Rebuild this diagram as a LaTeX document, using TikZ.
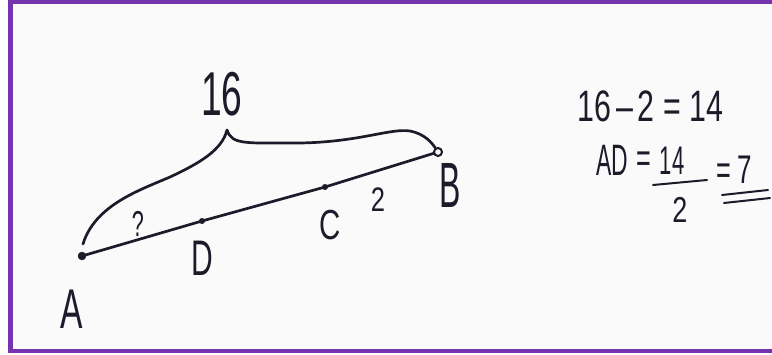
\documentclass[tikz,border=0pt]{standalone}
\usepackage{fontspec}
\setmainfont{Liberation Sans}
\begin{document}
\begin{tikzpicture}[x=1pt,y=-1pt,
  ink/.style={draw=inkc, line width=2.7pt, line cap=round, line join=round},
  pt/.style={circle, fill=inkc, draw=inkc, inner sep=0pt, minimum size=5pt},
  hw/.style={text=inkc, inner sep=0pt, font=\fontsize{56}{56}\selectfont},
  hws/.style={text=inkc, inner sep=0pt, font=\fontsize{42}{42}\selectfont}]
\definecolor{inkc}{HTML}{1B1B2A}
\definecolor{frame}{HTML}{7334AE}
\definecolor{paper}{HTML}{FAFAFA}
\useasboundingbox (0,0) rectangle (772,354);
\fill[white] (0,0) rectangle (772,354);
\fill[paper] (13,3.5) rectangle (772,349);
% frame
\fill[frame] (8,0) rectangle (772,3.5);
\fill[frame] (8,0) rectangle (13,353);
\fill[frame] (8,349) rectangle (772,353);
% points
\node[pt, minimum size=8pt] (A) at (82,256) {};
\node[pt, minimum size=5.5pt] (D) at (202,221) {};
\node[pt, minimum size=5.5pt] (C) at (325,187) {};
\node[pt, minimum size=8pt, fill=paper, line width=2pt] (B) at (438,152) {};
\draw[ink] (A.center) -- (D.center) -- (C.center) -- (B);
% brace
\coordinate (bt) at (83,244);
\coordinate (peak) at (227,130);
\draw[ink] (bt) .. controls (95,205) and (140,190) .. (170,177)
  .. controls (200,163) and (222,150) .. (peak)
  .. controls (232,145) and (245,143) .. (300,143)
  .. controls (360,142) and (390,128) .. (410,131)
  .. controls (425,134) and (432,143) .. (B);
% labels
\node[hw] (lA) at (72,309) {\scalebox{0.6}[1]{A}};
\node[hw, font=\fontsize{50}{50}\selectfont] (lD) at (202,258) {\scalebox{0.6}[1]{D}};
\node[hws] (lC) at (330,225) {\scalebox{0.7}[1]{C}};
\node[hw, font=\fontsize{64}{64}\selectfont] (lB) at (450,185) {\scalebox{0.5}[1]{B}};
\node[hw, font=\fontsize{62}{62}\selectfont] (l16) at (222,94) {\scalebox{0.6}[1]{16}};
\node[hws, font=\fontsize{36}{36}\selectfont] (lq) at (138,224) {\scalebox{0.6}[1]{?}};
\node[hws, font=\fontsize{34}{34}\selectfont] (l2) at (378,200) {\scalebox{0.75}[1]{2}};
% equations
\node[hws, anchor=west, font=\fontsize{44}{44}\selectfont] (eq1) at (577,106) {\scalebox{0.69}[1]{16\,–\,2 = 14}};
\node[hws, font=\fontsize{44}{44}\selectfont] (eqAD) at (612,160) {\scalebox{0.52}[1]{AD}};
\node[hws] (eqe1) at (644,162) {\scalebox{0.6}[1]{=}};
\node[hws, font=\fontsize{40}{40}\selectfont] (num) at (672,161) {\scalebox{0.55}[1]{14}};
\node[hws, font=\fontsize{36}{36}\selectfont] (den) at (680,210) {\scalebox{0.75}[1]{2}};
\draw[ink, line width=2pt] (653,185) -- (707,180);
\node[hws] (eqe2) at (724,174) {\scalebox{0.6}[1]{=}};
\node[hws, font=\fontsize{40}{40}\selectfont] (seven) at (745,170) {\scalebox{0.65}[1]{7}};
\draw[ink, line width=2pt] (722,195) -- (768,190);
\draw[ink, line width=2pt] (724,203) -- (770,198);
\end{tikzpicture}
\end{document}
